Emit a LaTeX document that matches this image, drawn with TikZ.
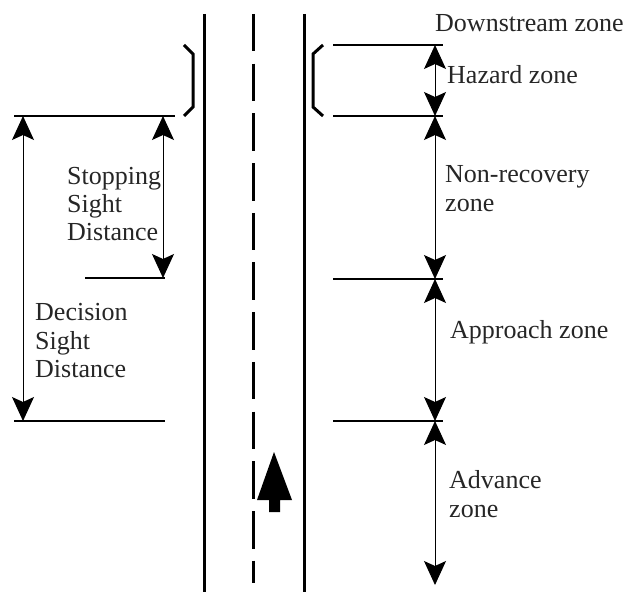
\documentclass[tikz,border=0pt]{standalone}
\usepackage{fontspec}
\setmainfont{Liberation Serif}
\usetikzlibrary{arrows.meta}
\begin{document}
\begin{tikzpicture}[x=1pt,y=-1pt,
  edgeline/.style={line width=3pt},
  thinline/.style={line width=1.2pt},
  tipa/.tip={Stealth[length=24pt,width=22pt,inset=5pt]},
  dimarrow/.style={line width=1pt,tipa-tipa},
  lbl/.style={anchor=base west,inner sep=0pt,font=\fontsize{26}{29}\selectfont,text=black!85}]
\useasboundingbox (0,0) rectangle (634,593);
% road
\draw[edgeline] (204,14) -- (204,592);
\draw[edgeline] (304,14) -- (304,592);
\draw[line width=3pt,dash pattern=on 37.5pt off 12.2pt] (253,14) -- (253,583);
% brackets
\draw[edgeline] (184,45) -- (193,54) -- (193,107) -- (184,116);
\draw[edgeline] (323,45) -- (313,54) -- (313,107) -- (323,116);
% vehicle arrow
\fill (274,452) -- (292,500) -- (280,500) -- (280,512) -- (269,512) -- (269,500) -- (257,500) -- cycle;
% right coordinates
\coordinate (r1) at (435,45);
\coordinate (r2) at (435,116);
\coordinate (r3) at (435,279);
\coordinate (r4) at (435,421);
\coordinate (r5) at (435,585);
\draw[thinline] (333,45) -- (443,45);
\draw[thinline] (333,116) -- (443,116);
\draw[thinline] (333,279) -- (443,279);
\draw[thinline] (333,421) -- (443,421);
\draw[dimarrow] (r1) -- (r2);
\draw[dimarrow] (r2) -- (r3);
\draw[dimarrow] (r3) -- (r4);
\draw[dimarrow] (r4) -- (r5);
% left
\coordinate (d1) at (23,116);
\coordinate (d2) at (23,421);
\coordinate (s1) at (163,116);
\coordinate (s2) at (163,278);
\draw[thinline] (14,116) -- (175,116);
\draw[thinline] (85,278) -- (165,278);
\draw[thinline] (14,421) -- (165,421);
\draw[dimarrow] (d1) -- (d2);
\draw[dimarrow] (s1) -- (s2);
% labels
\node[lbl] (tdown) at (435,32) {Downstream zone};
\node[lbl] (thaz) at (447,84) {Hazard zone};
\node[lbl] (tnon1) at (445,183) {Non-recovery};
\node[lbl] (tnon2) at (445,212) {zone};
\node[lbl] (tapp) at (450,338) {Approach zone};
\node[lbl] (tadv1) at (449,488) {Advance};
\node[lbl] (tadv2) at (449,517) {zone};
\node[lbl] (tst1) at (67,185) {Stopping};
\node[lbl] (tst2) at (67,213) {Sight};
\node[lbl] (tst3) at (67,241) {Distance};
\node[lbl] (tde1) at (35,320) {Decision};
\node[lbl] (tde2) at (35,349) {Sight};
\node[lbl] (tde3) at (35,377) {Distance};
\end{tikzpicture}
\end{document}
